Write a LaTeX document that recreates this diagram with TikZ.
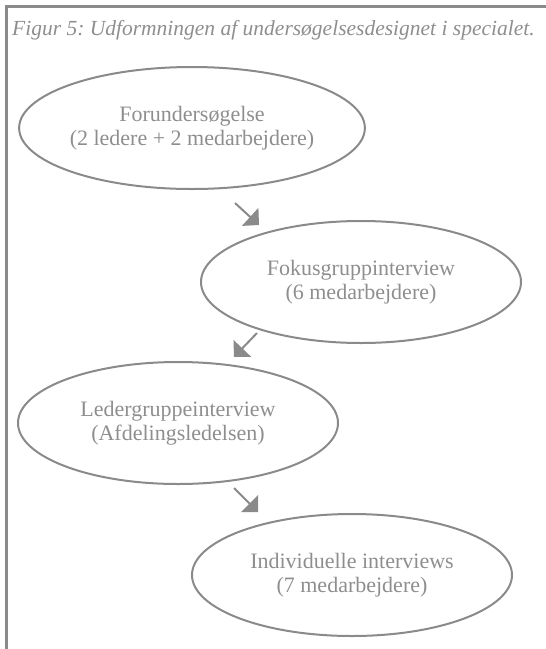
\documentclass[tikz,border=0pt]{standalone}
\usepackage{fontspec}
\setmainfont{Liberation Serif}
\usetikzlibrary{arrows.meta, shapes.geometric}
\definecolor{mGray}{HTML}{8A8A8A}
\definecolor{mText}{HTML}{8E8E8E}
\frenchspacing

\begin{document}
\begin{tikzpicture}[x=1pt, y=-1pt,
    fase/.style={draw=mGray, line width=2pt, ellipse, minimum width=320pt, minimum height=122pt,
      inner sep=0pt, align=center, text=mText, font=\fontsize{22}{24}\selectfont},
    pil/.style={draw=mGray, line width=2pt, -{Triangle[length=12pt, width=24pt]}}]
    \useasboundingbox (0,0) rectangle (546,649);
    % ramme
    \draw[mGray, line width=2.5pt] (546,6.5) -- (6.5,6.5) -- (6.5,649);
    \node[anchor=base west, text=mText, inner sep=0pt, font=\fontsize{21.5}{24}\selectfont\itshape] (caption) at (12,35)
      {Figur 5: Udformningen af undersøgelsesdesignet i specialet.};
    \node[fase] (forund) at (192,128) {Forundersøgelse\\(2 ledere + 2 medarbejdere)};
    \node[fase] (fokus) at (361,282) {Fokusgruppinterview\\(6 medarbejdere)};
    \node[fase] (leder) at (178,423) {Ledergruppeinterview\\(Afdelingsledelsen)};
    \node[fase] (indiv) at (352,575) {Individuelle interviews\\(7 medarbejdere)};
    % pile
    \coordinate (p1s) at (235,203); \coordinate (p1e) at (259,225);
    \coordinate (p2s) at (257,333); \coordinate (p2e) at (234,357);
    \coordinate (p3s) at (234,488); \coordinate (p3e) at (258,512);
    \draw[pil] (p1s) -- (p1e);
    \draw[pil] (p2s) -- (p2e);
    \draw[pil] (p3s) -- (p3e);
\end{tikzpicture}
\end{document}
